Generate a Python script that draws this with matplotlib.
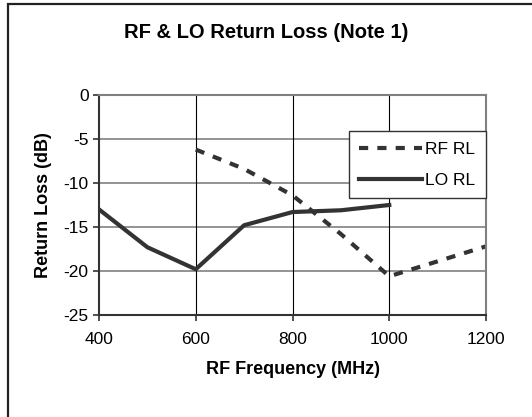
#!/usr/bin/env python3
"""RF & LO return loss vs RF frequency (Excel-style line chart)."""
from __future__ import annotations

import matplotlib

matplotlib.use("Agg")
import matplotlib.pyplot as plt
from matplotlib.patches import Rectangle

RF_FREQ = [600, 700, 800, 900, 1000, 1100, 1200]
RF_RL = [-6.2, -8.4, -11.4, -15.8, -20.6, -18.9, -17.2]
LO_FREQ = [400, 500, 600, 700, 800, 900, 1000]
LO_RL = [-13.0, -17.3, -19.8, -14.8, -13.3, -13.1, -12.5]

X_TICKS = [400, 600, 800, 1000, 1200]
Y_TICKS = [0, -5, -10, -15, -20, -25]

LINE = "#333333"
GRID = "#808080"


def main() -> None:
    plt.rcParams.update({
        "font.family": ["Liberation Sans", "DejaVu Sans"],
        "axes.unicode_minus": False,
    })
    W, H = 532, 417
    fig = plt.figure(figsize=(W / 100, H / 100), dpi=100)
    fig.patch.set_facecolor("white")

    # outer chart frame (cropped at right and bottom)
    fig.patches.append(
        Rectangle((8 / W, -0.1), 1.2, 1 - 4 / H + 0.1, transform=fig.transFigure,
                  fill=False, edgecolor="#222222", lw=1.6)
    )

    x0, x1, ytop, ybot = 99, 486, 95, 315
    ax = fig.add_axes([x0 / W, 1 - ybot / H, (x1 - x0) / W, (ybot - ytop) / H])

    ax.plot(RF_FREQ, RF_RL, color=LINE, lw=3, dashes=(2.2, 2.2), label="RF RL")
    ax.plot(LO_FREQ, LO_RL, color=LINE, lw=3, label="LO RL")

    ax.set_xlim(400, 1200)
    ax.set_ylim(-25, 0)
    ax.set_xticks(X_TICKS)
    ax.set_yticks(Y_TICKS)
    ax.tick_params(labelsize=12.5, direction="out", length=4, width=1.2, color="#333333")
    ax.tick_params(axis="x", pad=8)

    for y in Y_TICKS[1:-1]:
        ax.axhline(y, color=GRID, lw=1.2, zorder=0)
    for x in X_TICKS[1:-1]:
        ax.axvline(x, color="black", lw=0.8, zorder=0)

    for side in ("top", "right"):
        ax.spines[side].set_color(GRID)
        ax.spines[side].set_linewidth(1.5)
    for side in ("left", "bottom"):
        ax.spines[side].set_color("#333333")
        ax.spines[side].set_linewidth(1.5)

    ax.set_xlabel("RF Frequency (MHz)", fontsize=13, fontweight="bold", labelpad=10)
    ax.set_ylabel("Return Loss (dB)", fontsize=13, fontweight="bold", labelpad=8)
    fig.text(0.5, 1 - 33 / H, "RF & LO Return Loss (Note 1)", ha="center", va="center",
             fontsize=14.5, fontweight="bold")

    leg = ax.legend(loc="upper right", bbox_to_anchor=(1.0, 0.835), fontsize=12.5,
                    fancybox=False, framealpha=1, edgecolor="#333333",
                    handlelength=3.6, labelspacing=0.9, borderpad=0.6,
                    handletextpad=0.2, borderaxespad=0)
    leg.get_frame().set_linewidth(1.0)

    fig.savefig("out.png", dpi=100)
    plt.close(fig)


if __name__ == "__main__":
    main()
